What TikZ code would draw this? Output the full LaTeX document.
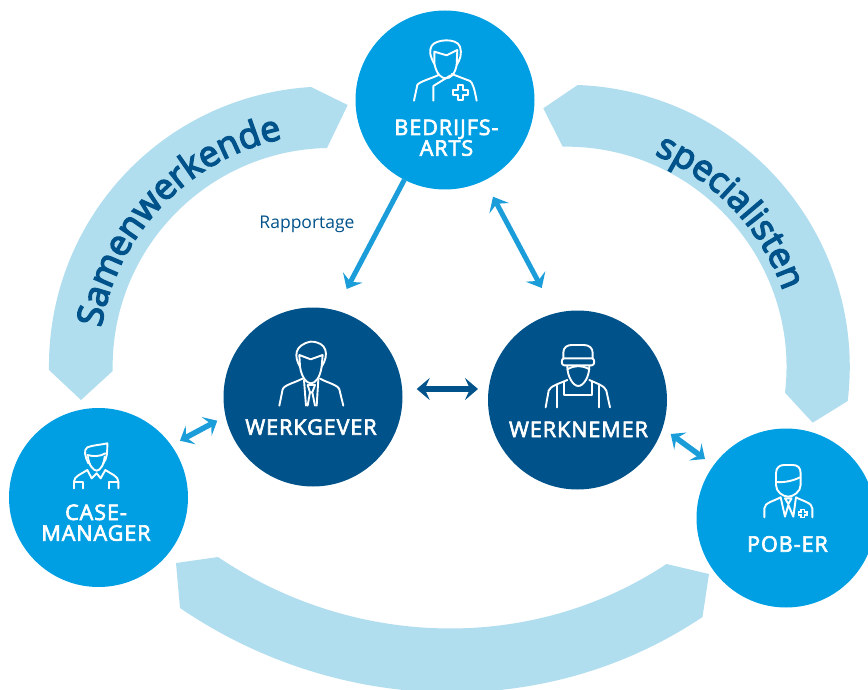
\documentclass[tikz,border=0pt]{standalone}
\usepackage{fontspec}
\setmainfont{Open Sans}
\usetikzlibrary{arrows.meta,decorations.text}
\definecolor{bandc}{HTML}{B1DEEF}
\definecolor{lightc}{HTML}{009FE3}
\definecolor{darkc}{HTML}{00528A}
\definecolor{arrowc}{HTML}{1B9DD9}
\newfontfamily\labfont[FakeBold=3,LetterSpace=4.5]{Open Sans}
\newfontfamily\bandfont[FakeBold=4]{Open Sans}
\tikzset{
  x=1pt,y=-1pt,
  band/.style={fill=bandc,draw=none},
  lightcirc/.style={circle,fill=lightc,minimum size=179pt,inner sep=0pt,outer sep=0pt},
  darkcirc/.style={circle,fill=darkc,minimum size=179pt,inner sep=0pt,outer sep=0pt},
  lab/.style={text=white,anchor=base,inner sep=0pt,font=\labfont\fontsize{21.5}{21.5}\selectfont},
  icon/.style={draw=white,line width=1.9pt,line cap=round,line join=round},
  link/.style={draw=arrowc,line width=5pt,{Stealth[length=13pt,width=22pt,inset=5pt]}-{Stealth[length=13pt,width=22pt,inset=5pt]}},
  onelink/.style={draw=arrowc,line width=5pt,-{Stealth[length=13pt,width=22pt,inset=5pt]}},
  darklink/.style={draw=darkc,line width=5.5pt,{Stealth[length=13pt,width=22pt,inset=5pt]}-{Stealth[length=13pt,width=22pt,inset=5pt]}},
  smalllink/.style={draw=arrowc,line width=5.5pt,{Stealth[length=12pt,width=21pt,inset=5pt]}-{Stealth[length=12pt,width=21pt,inset=5pt]}},
  zoomA/.style={x=0.3333pt,y=-0.3333pt}
}
\begin{document}
\begin{tikzpicture}
\useasboundingbox (0,0) rectangle (868,690);
\clip (0,0) rectangle (868,690);
% bands
\fill[band] (49,370) .. controls (46.9,220.4) and (161.7,96.1) .. (311,87) -- (347.7,105) -- (327,148)
  .. controls (206.3,150.4) and (110.3,250.3) .. (112.7,371) -- (81,400) -- cycle;
\fill[band] (577.7,85) .. controls (742.7,91.3) and (867.5,237.2) .. (847.7,401) -- (812.7,422.7) -- (785,392.7)
  .. controls (800.5,260.6) and (695.7,144.7) .. (562.7,146.7) -- (543.3,108.3) -- cycle;
\fill[band] (176,563) -- (218,557) .. controls (353,648) and (530.5,654) .. (666.5,564) -- (709,574) -- (702.5,617)
  .. controls (544.5,723) and (337,715) .. (180,608) -- cycle;
% band texts
\path[decorate,decoration={text along path,text={|\bandfont\fontsize{35.5}{35.5}\selectfont\color{darkc}|Samenwerkende}}]
  (101.2,327.7) .. controls (121.1,209.1) and (228.3,125.3) .. (348.2,134.7);
\path[decorate,decoration={text along path,text={|\bandfont\fontsize{35.5}{35.5}\selectfont\color{darkc}|specialisten}}]
  (654.4,154.7) .. controls (753.8,196.1) and (811.2,300.8) .. (792.5,406.9);
% circles
\node[lightcirc] (ba) at (445,100) {};
\node[darkcirc] (wg) at (313,397) {};
\node[darkcirc] (wn) at (577.5,400) {};
\node[lightcirc] (cm) at (98.5,497.5) {};
\node[lightcirc] (pob) at (786,518) {};
% labels
\node[lab] (baA) at (446.5,135) {BEDRIJFS-};
\node[lab] (baB) at (446.5,155.7) {ARTS};
\node[lab] (wgl) at (311,434.7) {WERKGEVER};
\node[lab] (wnl) at (578.5,437) {WERKNEMER};
\node[lab] (cmA) at (96,520) {CASE-};
\node[lab] (cmB) at (96,540.7) {MANAGER};
\node[lab] (pobl) at (787.5,551.7) {POB-ER};
\node[text=darkc,anchor=base,inner sep=0pt,font=\fontsize{17.5}{17.5}\selectfont] (rap) at (307,228) {Rapportage};
% connector ends
\coordinate (rapTip) at (346.7,289);
\coordinate (bwA) at (493,196.7);
\coordinate (bwB) at (541.7,288);
\coordinate (wwA) at (416.7,389);
\coordinate (wwB) at (478,389);
\coordinate (cwA) at (180,440.7);
\coordinate (cwB) at (217.3,420.7);
\coordinate (wpA) at (670.7,434);
\coordinate (wpB) at (705,459);
\draw[onelink] (ba.243) -- (rapTip);
\draw[link] (bwA) -- (bwB);
\draw[darklink] (wwA) -- (wwB);
\draw[smalllink] (cwA) -- (cwB);
\draw[smalllink] (wpA) -- (wpB);
% icon: bedrijfsarts
\begin{scope}[shift={(340,0)},zoomA]
\draw[icon] (283,192) .. controls (268,165) and (268,150) .. (275,138) .. controls (285,118) and (350,112) .. (360,140) .. controls (367,160) and (360,180) .. (350,195);
\draw[icon] (283,155) -- (320,166) -- (352,150) (283,155) -- (283,190) .. controls (290,225) and (305,235) .. (318,235) .. controls (332,235) and (345,222) .. (350,195) -- (352,150);
\draw[icon] (222,302) -- (232,255) .. controls (236,245) and (285,232) .. (297,224);
\draw[icon] (335,222) -- (390,243) .. controls (398,248) and (403,265) .. (410,302);
\draw[icon] (332,226) -- (280,258) -- (280,302);
\draw[icon] (354,255) -- (370,255) -- (370,270) -- (385,270) -- (385,286) -- (370,286) -- (370,301) -- (354,301) -- (354,286) -- (339,286) -- (339,270) -- (354,270) -- cycle;
\end{scope}
% icon: werkgever
\begin{scope}[shift={(220,300)},zoomA]
\draw[icon] (240,200) .. controls (222,170) and (222,135) .. (272,125) .. controls (322,125) and (328,165) .. (305,200);
\draw[icon] (238,165) -- (272,178) -- (308,165) (238,165) -- (240,200) .. controls (245,235) and (262,250) .. (273,250) .. controls (285,250) and (300,235) .. (305,200) -- (308,165);
\draw[icon] (178,317) -- (188,268) .. controls (192,255) and (225,248) .. (247,236);
\draw[icon] (370,317) -- (358,268) .. controls (354,255) and (322,248) .. (300,236);
\draw[icon] (252,240) -- (258,317) (295,240) -- (290,317);
\draw[icon] (263,255) -- (285,255) -- (277,277) -- (285,317) (263,255) -- (270,277) -- (263,317) (270,277) -- (277,277);
\end{scope}
% icon: werknemer
\begin{scope}[shift={(480,300)},zoomA]
\draw[icon] (250,175) -- (250,158) .. controls (250,142) and (262,135) .. (275,135) -- (312,135) .. controls (328,135) and (338,145) .. (338,158) -- (338,175);
\draw[icon] (252,175) -- (336,175) .. controls (345,175) and (345,196) .. (336,196) -- (252,196) .. controls (243,196) and (243,175) .. (252,175);
\draw[icon] (262,198) .. controls (262,232) and (280,258) .. (295,258) .. controls (310,258) and (328,232) .. (328,198);
\draw[icon] (262,208) .. controls (285,195) and (305,195) .. (328,208);
\draw[icon] (197,322) -- (206,272) .. controls (210,258) and (240,250) .. (262,240);
\draw[icon] (390,322) -- (379,272) .. controls (375,258) and (350,250) .. (328,240);
\draw[icon] (252,247) -- (252,285) -- (335,285) -- (335,247);
\draw[icon] (232,257) -- (232,322) (357,257) -- (357,322);
\end{scope}
% icon: case-manager
\begin{scope}[shift={(0,400)},zoomA]
\draw[icon] (265,190) .. controls (255,170) and (250,150) .. (262,142) .. controls (280,135) and (300,135) .. (322,130) .. controls (322,155) and (322,175) .. (310,190);
\draw[icon] (262,165) .. controls (280,170) and (300,170) .. (316,160);
\draw[icon] (264,170) .. controls (266,195) and (280,212) .. (290,212) .. controls (300,212) and (312,195) .. (314,170);
\draw[icon] (222,265) -- (222,245) .. controls (222,228) and (245,222) .. (262,210) -- (275,235) -- (290,220) -- (302,235) -- (316,210) .. controls (333,222) and (355,228) .. (355,245) -- (355,265);
\draw[icon] (222,245) -- (250,245) -- (250,265) (355,245) -- (328,245) -- (328,265);
\end{scope}
% icon: pob-er
\begin{scope}[shift={(660,420)},zoomA]
\draw[icon] (348,160) .. controls (348,142) and (360,135) .. (372,135) -- (398,135) .. controls (412,135) and (422,142) .. (422,160) -- (422,195) .. controls (422,215) and (400,230) .. (385,230) .. controls (368,230) and (348,215) .. (348,195) -- cycle;
\draw[icon] (350,186) .. controls (375,188) and (400,182) .. (420,172);
\draw[icon] (313,292) -- (313,265) .. controls (313,248) and (345,242) .. (362,232) -- (375,290) -- (385,255) -- (400,290) -- (408,232) .. controls (425,242) and (457,248) .. (457,265) -- (457,292);
\draw[icon] (375,235) -- (395,235) -- (385,252) -- cycle;
\draw[draw=white,line width=1.2pt,fill=lightc] (423,268) -- (433,268) -- (433,276) -- (441,276) -- (441,285) -- (433,285) -- (433,293) -- (423,293) -- (423,285) -- (415,285) -- (415,276) -- (423,276) -- cycle;
\end{scope}
\end{tikzpicture}
\end{document}
